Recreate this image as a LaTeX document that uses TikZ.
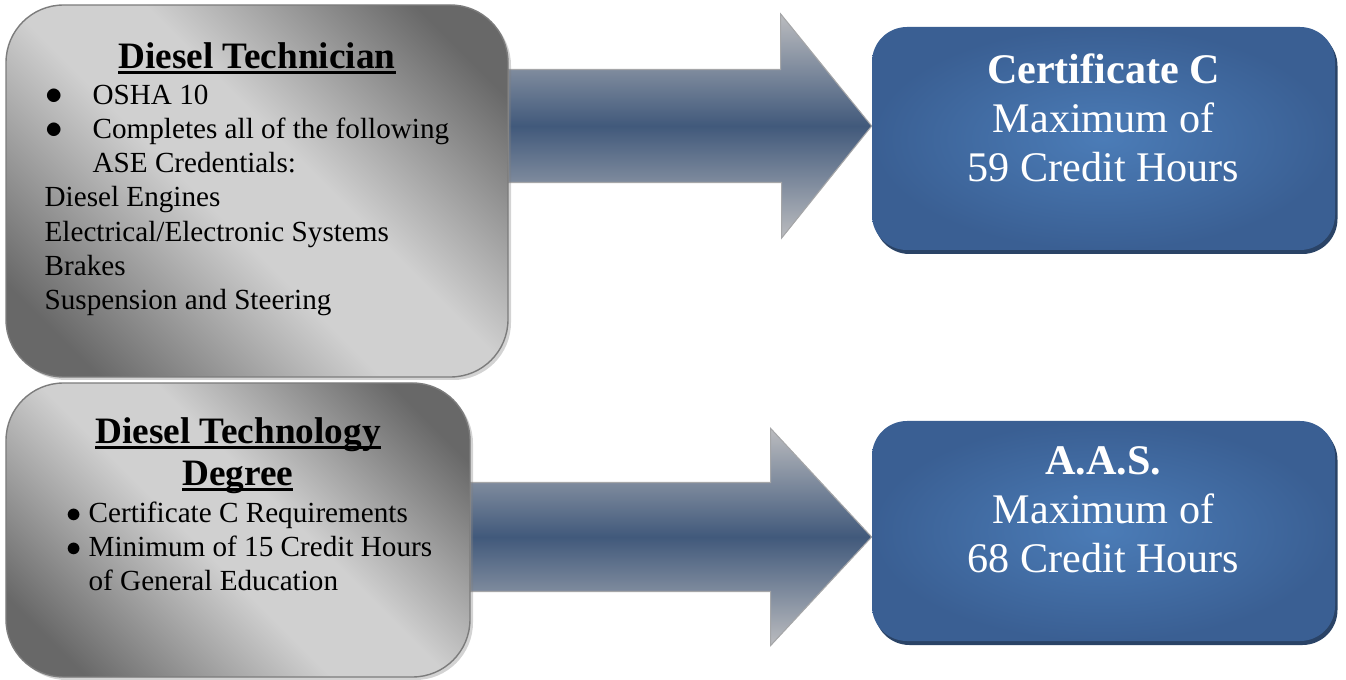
\documentclass[tikz,border=0pt]{standalone}
\usepackage{fontspec}
\setmainfont{Liberation Serif}
\usepackage{tikz}
\usetikzlibrary{positioning,shadows,backgrounds}

\definecolor{graydark}{HTML}{686868}
\definecolor{graylight}{HTML}{D0D0D0}
\definecolor{grayedge}{HTML}{7C7C7C}
\definecolor{blueouter}{HTML}{3A5F93}
\definecolor{blueinner}{HTML}{4B7CB7}
\definecolor{blueshadow}{HTML}{2A4366}
\definecolor{arrowlight}{HTML}{BBBCBF}
\definecolor{arrowdark}{HTML}{41597B}
\definecolor{arrowedge}{HTML}{A5A6A8}

\pgfdeclareverticalshading{grayband}{100bp}{color(0bp)=(graydark); color(22bp)=(graydark);
  color(45bp)=(graylight); color(56bp)=(graylight); color(78bp)=(graydark); color(100bp)=(graydark)}

\newcommand{\ulhead}[1]{\setbox0\hbox{#1}\rlap{\rule[-3pt]{\wd0}{1.5pt}}\box0}
\newcommand{\dotmark}{\scalebox{1.15}{$\bullet$}}

\begin{document}
\begin{tikzpicture}[
 graybox/.style = {draw=grayedge, line width=0.8pt, rounded corners=1.15cm,
                   shading=grayband, shading angle=-45,
                   drop shadow={shadow xshift=0.06cm, shadow yshift=-0.06cm,
                                opacity=0.35}},
 bluebox/.style = {rounded corners=0.7cm, inner color=blueinner,
                   outer color=blueouter,
                   drop shadow={shadow xshift=0.05cm, shadow yshift=-0.08cm,
                                fill=blueshadow, opacity=1}},
bigarrow/.style = {draw=arrowedge, line width=0.6pt, top color=arrowlight,
                   bottom color=arrowlight, middle color=arrowdark},
    head/.style = {inner sep=0pt, align=center,
                   font=\bfseries\fontsize{21.2}{23.8}\selectfont},
    item/.style = {inner sep=0pt, align=left,
                   font=\fontsize{16.6}{19.5}\selectfont},
    big/.style  = {inner sep=0pt, align=center, text=white,
                   font=\fontsize{24}{27.8}\selectfont}
                    ]
\useasboundingbox (0,0) rectangle (26.92,-13.6);

\node (tech)  [graybox, minimum width=10.04cm, minimum height=7.44cm] at (5.14,-3.82)  {};
\node (tech2) [graybox, minimum width=9.28cm,  minimum height=5.88cm] at (4.76,-10.60) {};
\node (cert)  [bluebox, minimum width=9.26cm,  minimum height=4.46cm] at (22.07,-2.77) {};
\node (aas)   [bluebox, minimum width=9.26cm,  minimum height=4.40cm] at (22.07,-10.62) {};

\node (techhead)  [head, below=0.76cm of tech.north]  {\ulhead{Diesel Technician}};
\node (techlist)  [item, below right=1.6cm and 0.78cm of tech.north west]
      {\makebox[0.96cm][l]{\hspace*{0.02cm}\dotmark}OSHA 10\\
       \makebox[0.96cm][l]{\hspace*{0.02cm}\dotmark}Completes all of the following\\
       \hspace*{0.96cm}ASE Credentials:\\
       Diesel Engines\\
       Electrical/Electronic Systems\\
       Brakes\\
       Suspension and Steering};
\node (tech2head) [head, below=0.70cm of tech2.north]
      {\ulhead{Diesel Technology}\\ \ulhead{Degree}};
\node (tech2list) [item, below right=2.38cm and 1.22cm of tech2.north west]
      {\makebox[0.44cm][l]{$\bullet$}Certificate C Requirements\\
       \makebox[0.44cm][l]{$\bullet$}Minimum of 15 Credit Hours\\
       \hspace*{0.44cm}of General Education};
\node (certtext)  [big, below=0.54cm of cert.north]
      {\textbf{Certificate C}\\ Maximum of\\ 59 Credit Hours};
\node (aastext)   [big, below=0.52cm of aas.north]
      {\textbf{A.A.S.}\\ Maximum of\\ 68 Credit Hours};

\coordinate (tip1) at (cert.west |- 0,-2.52);
\coordinate (tip2) at (aas.west |- 0,-10.74);
\begin{pgfonlayer}{background}
\shadedraw[bigarrow] ([yshift=1.13cm]tech.east |- tip1) -- ++(5.44,0) -- ++(0,1.11)
    -- (tip1) -- ++(-1.80,-2.24) -- ++(0,1.11) -- ([yshift=-1.13cm]tech.east |- tip1) -- cycle;
\shadedraw[bigarrow] ([yshift=1.09cm]tech2.east |- tip2) -- ++(6.00,0) -- ++(0,1.08)
    -- (tip2) -- ++(-2.02,-2.17) -- ++(0,1.08) -- ([yshift=-1.09cm]tech2.east |- tip2) -- cycle;
\end{pgfonlayer}
\end{tikzpicture}
\end{document}
